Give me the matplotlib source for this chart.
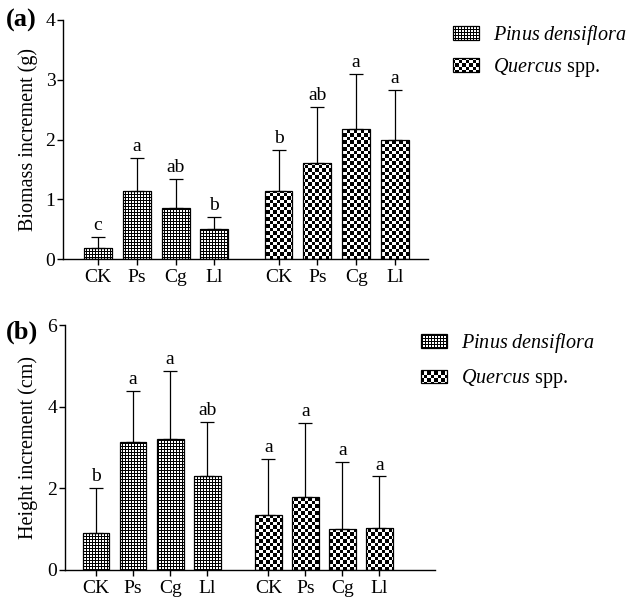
import numpy as np
import matplotlib
matplotlib.use("Agg")
import matplotlib.pyplot as plt
from matplotlib.patches import Rectangle
from matplotlib.image import FigureImage
from matplotlib.colors import Normalize
from matplotlib.transforms import IdentityTransform
from matplotlib.legend_handler import HandlerBase

plt.rcParams['font.family'] = ['Liberation Serif', 'DejaVu Serif']
plt.rcParams['mathtext.fontset'] = 'custom'
plt.rcParams['mathtext.rm'] = 'Liberation Serif'
plt.rcParams['mathtext.it'] = 'Liberation Serif:italic'

# ---------------- data ----------------
treatments = ['CK', 'Ps', 'Cg', 'Ll']
species_labels = [r'$\mathit{Pinus\ densiflora}$', r'$\mathit{Quercus}$ spp.']

biomass_pinus = [0.19, 1.14, 0.86, 0.51]
biomass_pinus_sd = [0.18, 0.55, 0.48, 0.19]
biomass_pinus_letters = ['c', 'a', 'ab', 'b']
biomass_quercus = [1.14, 1.60, 2.17, 1.99]
biomass_quercus_sd = [0.68, 0.94, 0.92, 0.84]
biomass_quercus_letters = ['b', 'ab', 'a', 'a']

height_pinus = [0.91, 3.14, 3.21, 2.31]
height_pinus_sd = [1.09, 1.24, 1.67, 1.31]
height_pinus_letters = ['b', 'a', 'a', 'ab']
height_quercus = [1.34, 1.78, 1.01, 1.03]
height_quercus_sd = [1.38, 1.83, 1.64, 1.26]
height_quercus_letters = ['a', 'a', 'a', 'a']

# ---------------- figure ----------------
W, H = 632, 599
fig = plt.figure(figsize=(W / 100, H / 100), dpi=100)

yy, xx = np.mgrid[0:H, 0:W]
pinus_pat = ((xx % 3 != 2) & (yy % 3 != 2)).astype(float)
quercus_pat = (((xx / 3.5).astype(int) + (yy / 3.5).astype(int)) % 2).astype(float)
norm = Normalize(0, 1)


def pattern_image(arr):
    im = FigureImage(fig, cmap='gray', norm=norm, origin='lower')
    im.set_array(arr)
    im.set_transform(IdentityTransform())
    return im


class PatternHandler(HandlerBase):
    def __init__(self, arr):
        super().__init__()
        self.arr = arr

    def create_artists(self, legend, orig_handle, xdescent, ydescent,
                       width, height, fontsize, trans):
        rect = Rectangle((-xdescent, -ydescent), width, height,
                         facecolor='none', edgecolor='black', lw=0.9,
                         transform=trans)
        im = pattern_image(self.arr)
        im.set_clip_path(rect)
        return [im, rect]


FS = 14
FS_LAB = 14.5
off = 4.65
bw = 0.72


def panel(rect, pin, pin_sd, pin_let, que, que_sd, que_let, ymax, yticks,
          xlim, ylabel, ylab_x, tag, tagpos, leg_anchor, leg_spacing):
    ax = fig.add_axes(rect)
    x1 = np.arange(len(treatments))
    x2 = x1 + off
    for xs, vals, sds, lets, pat in [(x1, pin, pin_sd, pin_let, pinus_pat),
                                      (x2, que, que_sd, que_let, quercus_pat)]:
        bars = ax.bar(xs, vals, width=bw, facecolor='none', edgecolor='black',
                      linewidth=0.9, zorder=2)
        for b in bars:
            im = pattern_image(pat)
            ax.add_artist(im)
            im.set_zorder(1.5)
            im.set_clip_path(b)
        ax.errorbar(xs, vals, yerr=[np.zeros(len(vals)), sds], fmt='none',
                    ecolor='black', elinewidth=0.9, capsize=5, capthick=0.9,
                    zorder=3)
        for xi, v, s, l in zip(xs, vals, sds, lets):
            ax.annotate(l, (xi, v + s), xytext=(0, 5), textcoords='offset points',
                        ha='center', va='baseline', fontsize=FS)
    ax.set_xlim(*xlim)
    ax.set_ylim(0, ymax)
    ax.set_yticks(yticks)
    ax.set_xticks(np.concatenate([x1, x2]))
    ax.set_xticklabels(treatments * 2)
    for s in ['top', 'right']:
        ax.spines[s].set_visible(False)
    for s in ['left', 'bottom']:
        ax.spines[s].set_linewidth(1.0)
    ax.tick_params(axis='both', labelsize=FS, width=1.0, length=4, direction='out')
    ax.tick_params(axis='y', pad=1.5)
    ax.tick_params(axis='x', pad=3)
    ax.set_ylabel(ylabel, fontsize=FS_LAB)
    ax.yaxis.set_label_coords(ylab_x, 0.5)
    fig.text(tagpos[0], tagpos[1], tag, fontsize=19, fontweight='bold',
             ha='left', va='center')
    handles = [Rectangle((0, 0), 1, 1), Rectangle((0, 0), 1, 1)]
    ax.legend(handles, species_labels,
              handler_map={handles[0]: PatternHandler(pinus_pat),
                           handles[1]: PatternHandler(quercus_pat)},
              loc='upper left', bbox_to_anchor=leg_anchor,
              bbox_transform=fig.transFigure, frameon=False, fontsize=FS_LAB,
              borderpad=0, borderaxespad=0, handlelength=1.3,
              handleheight=0.65, handletextpad=0.7, labelspacing=leg_spacing)
    return ax


panel([63 / W, 1 - 259 / H, 365 / W, 239 / H],
      biomass_pinus, biomass_pinus_sd, biomass_pinus_letters,
      biomass_quercus, biomass_quercus_sd, biomass_quercus_letters,
      4, [0, 1, 2, 3, 4], (-0.9, 8.5), 'Biomass increment (g)', -0.068, '(a)',
      (6 / W, 1 - 20 / H), (453 / W, 1 - 23 / H), 0.45)

panel([65 / W, 1 - 570 / H, 370 / W, 245 / H],
      height_pinus, height_pinus_sd, height_pinus_letters,
      height_quercus, height_quercus_sd, height_quercus_letters,
      6, [0, 2, 4, 6], (-0.84, 9.15), 'Height increment (cm)', -0.073, '(b)',
      (6 / W, 1 - 332 / H), (421 / W, 1 - 331 / H), 0.62)

fig.savefig('out.png', dpi=100)
